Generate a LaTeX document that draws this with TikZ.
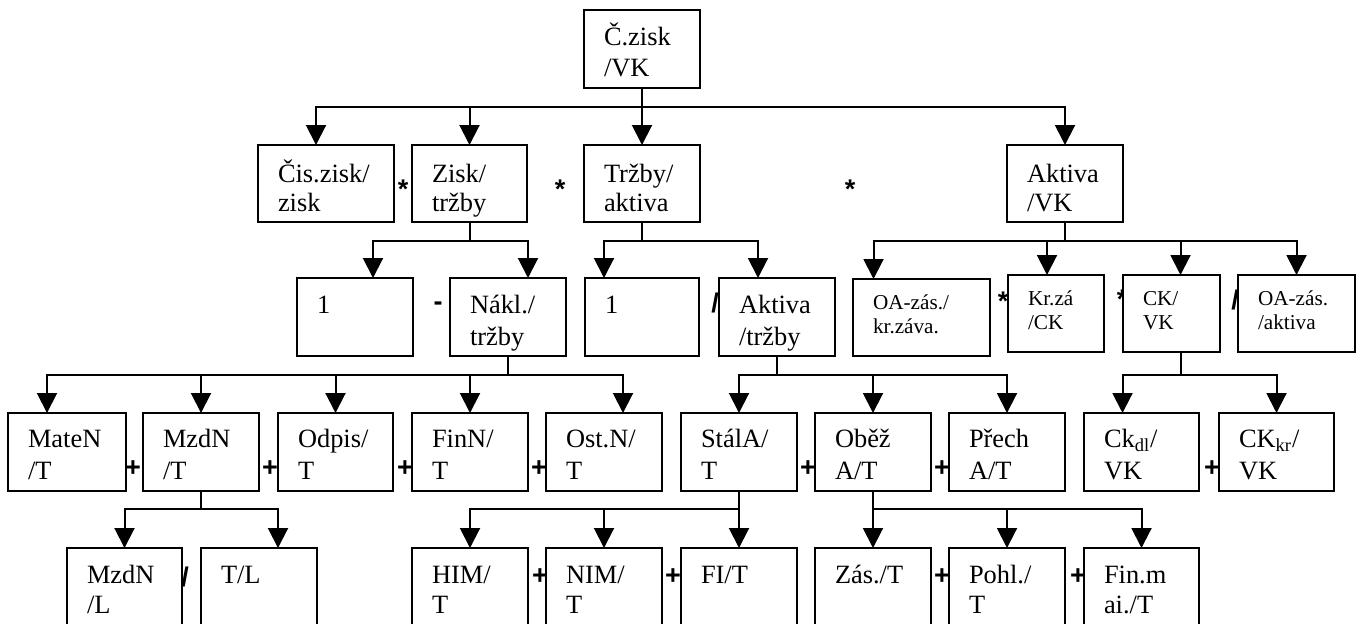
\documentclass[tikz,border=0pt]{standalone}
\usepackage{fontspec}
\setmainfont{Liberation Serif}
\newfontfamily\opfont{Liberation Sans}
\usetikzlibrary{arrows.meta}
\newcommand\bxpad{20}
\newcommand\bxa{35}
\newcommand\bxb{66}
\newcommand\bxfont{\fontsize{13.2pt}{15pt}\selectfont}
\newcommand\bx[7]{%
  \pgfmathsetmacro\bxw{(#4-#2)*0.5}%
  \pgfmathsetmacro\bxh{(#5-#3)*0.5}%
  \node[box, minimum width=\bxw pt, minimum height=\bxh pt] (#1) at ({(#2+#4)/2},{(#3+#5)/2}) {};
  \node[txt, anchor=base west] (#1-a) at ({#2+\bxpad},{#3+\bxa}) {\bxfont #6};
  \if\relax\detokenize{#7}\relax\else
  \node[txt, anchor=base west] (#1-b) at ({#2+\bxpad},{#3+\bxb}) {\bxfont #7};
  \fi
}
\newcommand\tr[5]{\draw[arr] ([xshift=#2*0.5pt]#1.south) -- ++(0,#3) -| ([xshift=#5*0.5pt]#4.north);}
\begin{document}
\begin{tikzpicture}[x=0.5pt,y=-0.5pt,
  box/.style={draw, line width=1pt, fill=white, inner sep=0pt, outer sep=0pt},
  txt/.style={inner sep=0pt, outer sep=0pt},
  arr/.style={line width=1pt, -{Triangle[width=10pt,length=10pt]}},
  op/.style={inner sep=0pt, outer sep=0pt, anchor=base, font=\opfont\bfseries\fontsize{13.5pt}{15pt}\selectfont}]
\useasboundingbox (0,0) rectangle (1364,623);
\clip (0,0) rectangle (1364,623);
% operators (drawn first, partly covered by boxes)
\node[op] (s1) at (403,198) {*};
\node[op] (s2) at (560,198) {*};
\node[op] (s3) at (850,198) {*};
\node[op] (m1) at (438,310) {-};
\node[op] (d1) at (715,312) {/};
\node[op] (s4) at (1003,310) {*};
\node[op] (s5) at (1122,308) {*};
\node[op] (d2) at (1235,309) {/};
\node[op] (p1) at (133,476) {+};
\node[op] (p2) at (270,476) {+};
\node[op] (p3) at (405,476) {+};
\node[op] (p4) at (539,476) {+};
\node[op] (p5) at (808,476) {+};
\node[op] (p6) at (942,476) {+};
\node[op] (p7) at (1212,476) {+};
\node[op] (d3) at (185,586) {/};
\node[op] (q1) at (540,584) {+};
\node[op] (q2) at (673,584) {+};
\node[op] (q3) at (942,584) {+};
\node[op] (q4) at (1078,584) {+};
% boxes
\bx{top}{584}{10}{700}{88}{Č.zisk}{/VK}
\renewcommand\bxa{37}
\renewcommand\bxb{66}
\bx{cz}{258}{145}{394}{222}{Čis.zisk/}{zisk}
\bx{zt}{412}{145}{527}{222}{Zisk/}{tržby}
\bx{ta}{584}{145}{700}{222}{Tržby/}{aktiva}
\bx{av}{1007}{145}{1123}{222}{Aktiva}{/VK}
\renewcommand\bxa{35}
\renewcommand\bxb{67}
\bx{one1}{297}{278}{413}{356}{1}{}
\bx{nt}{450}{278}{566}{356}{Nákl./}{tržby}
\bx{one2}{585}{278}{699}{356}{1}{}
\bx{at}{719}{278}{835}{356}{Aktiva}{/tržby}
\renewcommand\bxa{30}
\renewcommand\bxb{54}
\renewcommand\bxfont{\fontsize{10.6pt}{12pt}\selectfont}
\bx{oz}{853}{279}{990}{356}{OA-zás./}{kr.záva.}
\bx{kz}{1008}{275}{1104}{352}{Kr.zá}{/CK}
\bx{ck}{1123}{275}{1220}{352}{CK/}{VK}
\bx{oa}{1238}{275}{1355}{352}{OA-zás.}{/aktiva}
\renewcommand\bxa{34}
\renewcommand\bxb{66}
\renewcommand\bxfont{\fontsize{13.2pt}{15pt}\selectfont}
\bx{mn}{8}{413}{126}{491}{MateN}{/T}
\bx{mz}{143}{413}{259}{491}{MzdN}{/T}
\bx{od}{278}{413}{393}{491}{Odpis/}{T}
\bx{fn}{412}{413}{528}{491}{FinN/}{T}
\bx{on}{546}{413}{662}{491}{Ost.N/}{T}
\bx{sa}{681}{413}{797}{491}{StálA/}{T}
\bx{ob}{815}{413}{931}{491}{Oběž}{A/T}
\bx{pa}{949}{413}{1065}{491}{Přech}{A/T}
\bx{cd}{1084}{413}{1199}{491}{Ck\textsubscript{dl}/}{VK}
\bx{ckr}{1219}{413}{1334}{491}{CK\textsubscript{kr}/}{VK}
\renewcommand\bxa{35}
\renewcommand\bxb{65}
\bx{ml}{67}{548}{182}{632}{MzdN}{/L}
\bx{tl}{201}{548}{317}{632}{T/L}{}
\bx{him}{412}{548}{528}{632}{HIM/}{T}
\bx{nim}{546}{548}{662}{632}{NIM/}{T}
\bx{fi}{681}{548}{797}{632}{FI/T}{}
\bx{zas}{815}{548}{931}{632}{Zás./T}{}
\bx{pohl}{949}{548}{1065}{632}{Pohl./}{T}
\bx{fm}{1084}{548}{1199}{632}{Fin.m}{ai./T}
% connectors
\tr{top}{0}{19}{cz}{-10}
\tr{top}{0}{19}{zt}{0}
\tr{top}{0}{19}{ta}{0}
\tr{top}{0}{19}{av}{0}
\tr{zt}{0}{19}{one1}{18}
\tr{zt}{0}{19}{nt}{20}
\tr{ta}{0}{19}{one2}{-38}
\tr{ta}{0}{19}{at}{-19}
\tr{av}{0}{19}{oz}{-48}
\tr{av}{0}{19}{kz}{-9}
\tr{av}{0}{19}{ck}{9}
\tr{av}{0}{19}{oa}{0}
\tr{nt}{0}{19}{mn}{-20}
\tr{nt}{0}{19}{mz}{0}
\tr{nt}{0}{19}{od}{0}
\tr{nt}{0}{19}{fn}{0}
\tr{nt}{0}{19}{on}{19}
\tr{at}{0}{19}{sa}{0}
\tr{at}{0}{19}{ob}{0}
\tr{at}{0}{19}{pa}{0}
\tr{ck}{9}{23}{cd}{-19}
\tr{ck}{9}{23}{ckr}{0}
\tr{mz}{0}{18}{ml}{0}
\tr{mz}{0}{18}{tl}{19}
\tr{sa}{0}{18}{him}{0}
\tr{sa}{0}{18}{nim}{0}
\tr{sa}{0}{18}{fi}{0}
\tr{ob}{0}{18}{zas}{0}
\tr{ob}{0}{18}{pohl}{0}
\tr{ob}{0}{18}{fm}{0}
\end{tikzpicture}
\end{document}
